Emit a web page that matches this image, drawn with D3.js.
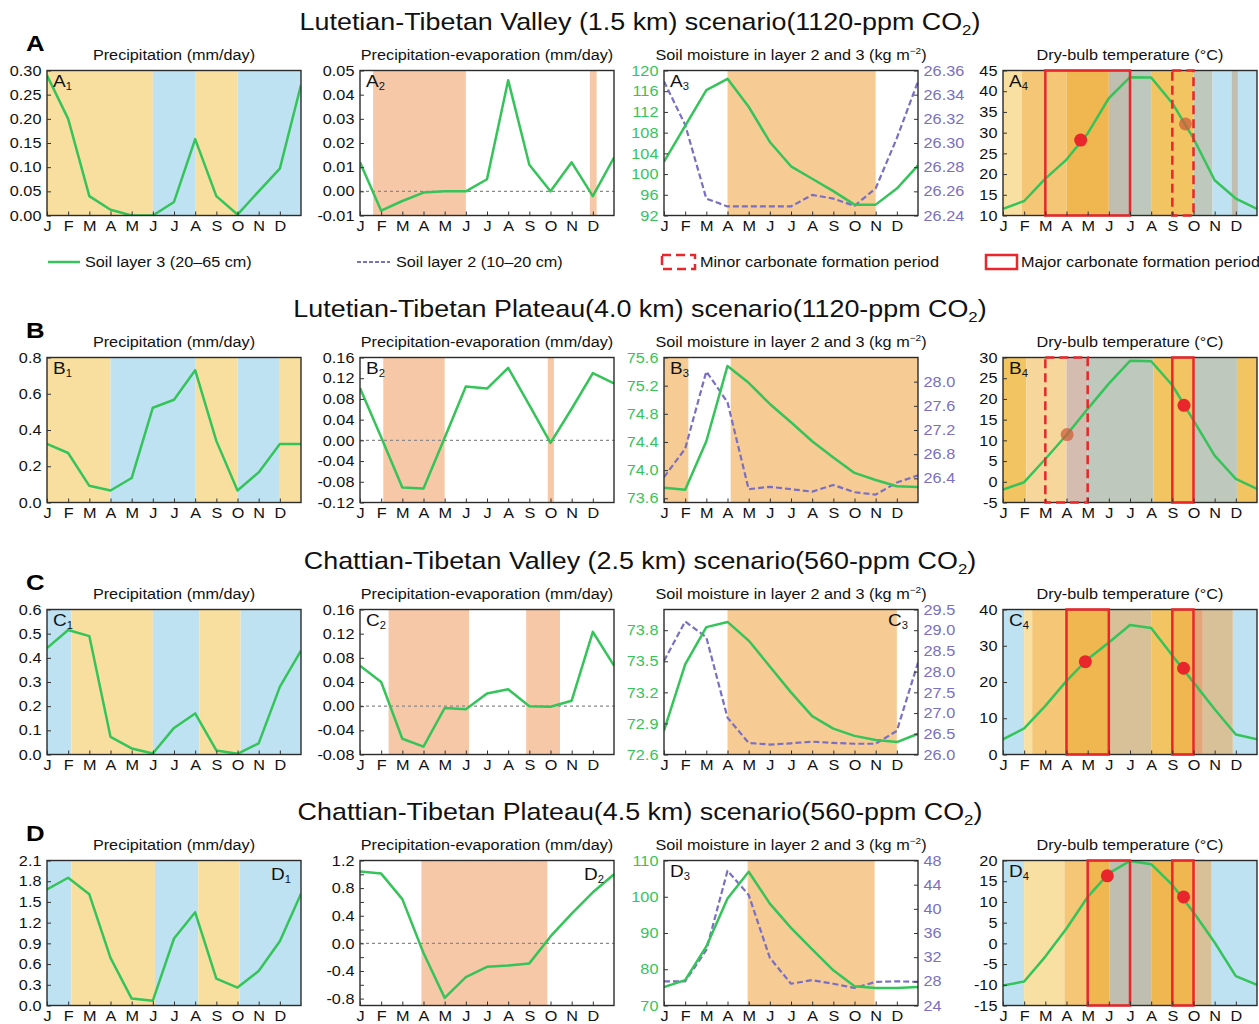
<!DOCTYPE html>
<html>
<head>
<meta charset="utf-8">
<script src="https://cdn.jsdelivr.net/npm/d3@7/dist/d3.min.js"></script>
<style>
  body { margin: 0; background: #fff; }
  text { font-family: "Liberation Sans", Arial, sans-serif; }
</style>
</head>
<body>
<div id="chart"></div>
<script>
// Monate (13 Punkte: J..D + folgender Januar am rechten Rand)
const months = ["J", "F", "M", "A", "M", "J", "J", "A", "S", "O", "N", "D"];

// Überschriften
const rowLetters = ["A", "B", "C", "D"];
const rowTitles = [
  "Lutetian-Tibetan Valley (1.5 km) scenario(1120-ppm CO",
  "Lutetian-Tibetan Plateau(4.0 km) scenario(1120-ppm CO",
  "Chattian-Tibetan Valley (2.5 km) scenario(560-ppm CO",
  "Chattian-Tibetan Plateau(4.5 km) scenario(560-ppm CO"
];
const subTitles = ["Precipitation (mm/day)", "Precipitation-evaporation (mm/day)",
  "Soil moisture in layer 2 and 3 (kg m", "Dry-bulb temperature (°C)"];
const legendLabels = ["Soil layer 3 (20–65 cm)", "Soil layer 2 (10–20 cm)",
  "Minor carbonate formation period", "Major carbonate formation period"];

// Niederschlag (mm/day)
const precipA = [0.29, 0.20, 0.04, 0.012, 0.0, 0.0, 0.028, 0.158, 0.04, 0.002, 0.05, 0.097, 0.27];
const precipB = [0.323, 0.273, 0.092, 0.066, 0.135, 0.523, 0.567, 0.73, 0.34, 0.066, 0.166, 0.323, 0.323];
const precipC = [0.44, 0.515, 0.49, 0.073, 0.025, 0.004, 0.11, 0.17, 0.017, 0.003, 0.046, 0.28, 0.43];
const precipD = [1.68, 1.85, 1.61, 0.69, 0.10, 0.07, 0.97, 1.35, 0.39, 0.26, 0.50, 0.93, 1.62];

// Niederschlag - Verdunstung (mm/day)
const peA = [0.012, -0.008, -0.004, -0.0005, 0.0, 0.0, 0.005, 0.046, 0.011, 0.0, 0.012, -0.002, 0.014];
const peB = [0.101, 0.006, -0.091, -0.093, 0.005, 0.104, 0.10, 0.14, 0.068, -0.005, 0.061, 0.13, 0.11];
const peC = [0.067, 0.04, -0.054, -0.067, -0.003, -0.005, 0.021, 0.028, 0.0, -0.001, 0.009, 0.123, 0.067];
const peD = [1.04, 1.01, 0.64, -0.14, -0.79, -0.49, -0.34, -0.32, -0.29, 0.1, 0.43, 0.74, 1.0];

// Bodenfeuchte Schicht 3 (links) und Schicht 2 (rechts)
const soil3A = [102.4, 109.3, 116.2, 118.4, 113, 106.2, 101.5, 99.1, 96.7, 94.1, 94.1, 97.2, 101.7];
const soil2A = [26.351, 26.315, 26.254, 26.2475, 26.2475, 26.2475, 26.2475, 26.257, 26.254, 26.248, 26.2625, 26.304, 26.351];
const soil3B = [73.75, 73.72, 74.41, 75.48, 75.24, 74.94, 74.68, 74.41, 74.18, 73.96, 73.86, 73.77, 73.76];
const soil2B = [26.42, 26.89, 28.17, 27.66, 26.22, 26.26, 26.22, 26.18, 26.29, 26.17, 26.13, 26.33, 26.45];
const soil3C = [72.83, 73.47, 73.83, 73.88, 73.70, 73.45, 73.20, 72.97, 72.85, 72.78, 72.74, 72.72, 72.8];
const soil2C = [28.26, 29.21, 28.83, 26.89, 26.28, 26.24, 26.27, 26.31, 26.28, 26.26, 26.26, 26.57, 28.22];
const soil3D = [75.1, 77.0, 86.3, 99.5, 106.9, 98.1, 91.4, 85.5, 79.7, 75.3, 74.8, 74.8, 75.1];
const soil2D = [28.0, 28.0, 33.2, 46.3, 42.3, 31.9, 27.6, 28.2, 27.6, 26.9, 27.9, 28.0, 27.9];

// Trockentemperatur (°C)
const tempA = [11.6, 13.5, 18.9, 23.5, 29.8, 38.3, 43.4, 43.3, 37.1, 28.6, 18.5, 14.1, 11.6];
const tempB = [-1.9, -0.1, 5.5, 11.3, 17.6, 23.7, 29.2, 29.1, 23.3, 14.8, 6.3, 0.7, -1.7];
const tempC = [4.2, 7.2, 13.4, 20.3, 26.3, 30.9, 35.7, 34.9, 27.3, 19.9, 12.5, 5.5, 4.2];
const tempD = [-10.2, -9.2, -3.2, 3.6, 11.2, 16.9, 19.9, 19.1, 14.1, 7.5, 0.2, -7.9, -10.0];

// Hintergrund-Perioden [von, bis, Art] in Monaten
const precipBandsA = [[0, 5, "dry"], [5, 7, "wet"], [7, 9, "dry"], [9, 12, "wet"]];
const precipBandsB = [[0, 3, "dry"], [3, 7, "wet"], [7, 9, "dry"], [9, 11, "wet"], [11, 12, "dry"]];
const precipBandsC = [[0, 1.15, "wet"], [1.15, 5, "dry"], [5, 7.2, "wet"], [7.2, 9.15, "dry"], [9.15, 12, "wet"]];
const precipBandsD = [[0, 1.15, "wet"], [1.15, 5.1, "dry"], [5.1, 7.15, "wet"], [7.15, 9.1, "dry"], [9.1, 12, "wet"]];
const peBandsA = [[0.62, 5, "pe"], [10.86, 11.18, "pe"]];
const peBandsB = [[1.1, 4, "pe"], [8.87, 9.16, "pe"]];
const peBandsC = [[1.35, 5.15, "pe"], [7.85, 9.45, "pe"]];
const peBandsD = [[2.9, 8.85, "pe"]];
const soilBandsA = [[3, 10, "soil"]];
const soilBandsB = [[0, 1.15, "soil"], [3.15, 12, "soil"]];
const soilBandsC = [[3, 11, "soil"]];
const soilBandsD = [[3.95, 9.95, "soil"]];
const tempBandsA = [[0, 0.9, "pale"], [0.9, 3, "lo"], [3, 5, "mid"], [5, 6, "gray"], [6, 7, "sage"], [7, 9, "gold"],
  [9, 9.9, "sage"], [9.9, 10.8, "wet"], [10.8, 11.1, "gray"], [11.1, 12, "wet"]];
const tempBandsB = [[0, 1.1, "gold"], [1.1, 3, "lt"], [3, 4, "rose"], [4, 7.1, "sage"], [7.1, 9.05, "gold"],
  [9.05, 11.05, "sage"], [11.05, 12, "gold"]];
const tempBandsC = [[0, 1, "wet"], [1, 1.38, "pale"], [1.38, 2.9, "lo"], [2.9, 5, "mid"], [5, 7, "tan"], [7, 8, "gold"],
  [8, 9.06, "mid"], [9.06, 9.44, "rust"], [9.44, 10.86, "tan"], [10.86, 12, "wet"]];
const tempBandsD = [[0, 1, "wet"], [1, 2.9, "pale"], [2.9, 3.94, "lo"], [3.94, 5.04, "mid"], [5.04, 7.03, "gray"],
  [7.03, 9.1, "mid"], [9.1, 9.86, "tan"], [9.86, 12, "wet"]];

// Karbonatbildungsperioden [von, bis, Art] und Punkte [Monat, °C, Art]
const boxesA = [[2, 6, "major"], [8, 9, "minor"]];
const boxesB = [[2, 4, "minor"], [8, 9, "major"]];
const boxesC = [[3, 5, "major"], [8, 9, "major"]];
const boxesD = [[4, 6, "major"], [8, 9, "major"]];
const dotsA = [[3.67, 28.2, "major"], [8.62, 32.1, "minor"]];
const dotsB = [[3.03, 11.4, "minor"], [8.55, 18.45, "major"]];
const dotsC = [[3.89, 25.6, "major"], [8.53, 23.8, "major"]];
const dotsD = [[4.93, 16.3, "major"], [8.53, 11.2, "major"]];

// Achsenbeschriftungen
const ticksA1 = [0, 0.05, 0.10, 0.15, 0.20, 0.25, 0.30];
const ticksA2 = [-0.01, 0, 0.01, 0.02, 0.03, 0.04, 0.05];
const ticksA3L = [92, 96, 100, 104, 108, 112, 116, 120];
const ticksA3R = [26.24, 26.26, 26.28, 26.30, 26.32, 26.34, 26.36];
const ticksA4 = [10, 15, 20, 25, 30, 35, 40, 45];
const ticksB1 = [0, 0.2, 0.4, 0.6, 0.8];
const ticksB2 = [-0.12, -0.08, -0.04, 0, 0.04, 0.08, 0.12, 0.16];
const ticksB3L = [73.6, 74.0, 74.4, 74.8, 75.2, 75.6];
const ticksB3R = [26.4, 26.8, 27.2, 27.6, 28.0];
const ticksB4 = [-5, 0, 5, 10, 15, 20, 25, 30];
const ticksC1 = [0, 0.1, 0.2, 0.3, 0.4, 0.5, 0.6];
const ticksC2 = [-0.08, -0.04, 0, 0.04, 0.08, 0.12, 0.16];
const ticksC3L = [72.6, 72.9, 73.2, 73.5, 73.8];
const ticksC3R = [26.0, 26.5, 27.0, 27.5, 28.0, 28.5, 29.0, 29.5];
const ticksC4 = [0, 10, 20, 30, 40];
const ticksD1 = [0, 0.3, 0.6, 0.9, 1.2, 1.5, 1.8, 2.1];
const ticksD2 = [-0.8, -0.6, -0.4, -0.2, 0, 0.2, 0.4, 0.6, 0.8, 1.0, 1.2];
const ticksD3L = [70, 80, 90, 100, 110];
const ticksD3R = [24, 28, 32, 36, 40, 44, 48];
const ticksD4 = [-15, -10, -5, 0, 5, 10, 15, 20];

// Layout
const width = 1259, height = 1024;
const colX = [[47, 301], [360, 614], [664, 918], [1003, 1257]];
const rowTop = [70.5, 357.5, 609.5, 860.5];
const plotH = 145;
const SX = 1.12; // Schrift im Original horizontal gestreckt

const bandColor = {
  dry: "#f8df9f", wet: "#bee2f2", pe: "#f6c8a8", soil: "#f6cb94",
  pale: "#f8e0a2", lo: "#f4c675", mid: "#f0b650", gray: "#c0beb0", sage: "#bfc8bc",
  gold: "#f3c462", tan: "#d8c099", rose: "#d5bcb0", rust: "#e3a678", lt: "#f6d69b"
};
const green = "#35c45a", purple = "#7a6fc2", red = "#e8262b";

const fmt = f => v => d3.format(f)(v).replace("−", "-");

const svg = d3.select("#chart").append("svg")
  .attr("width", width).attr("height", height);

function label(parent, x, y, str, size, anchor, fill, weight) {
  return parent.append("text")
    .attr("transform", `translate(${x},${y}) scale(${SX},1)`)
    .attr("text-anchor", anchor || "start")
    .attr("font-size", size)
    .attr("fill", fill || "#111")
    .attr("font-weight", weight || "normal")
    .text(str);
}

// Panels
const panels = [
  { row: 0, col: 0, tag: ["A", "1"], bands: precipBandsA, yDomain: [0, 0.30], yTicks: ticksA1, yFmt: fmt(".2f"), lines: [{ v: precipA }] },
  { row: 0, col: 1, tag: ["A", "2"], bands: peBandsA, zero: true, yDomain: [-0.01, 0.05], yTicks: ticksA2, yFmt: fmt(".2f"), lines: [{ v: peA }] },
  { row: 0, col: 2, tag: ["A", "3"], bands: soilBandsA, yDomain: [92, 120], yTicks: ticksA3L, yFmt: fmt("d"),
    y2Domain: [26.24, 26.36], y2Ticks: ticksA3R, y2Fmt: fmt(".2f"), lines: [{ v: soil2A, right: true }, { v: soil3A }] },
  { row: 0, col: 3, tag: ["A", "4"], bands: tempBandsA, yDomain: [10, 45], yTicks: ticksA4, yFmt: fmt("d"), lines: [{ v: tempA }], boxes: boxesA, dots: dotsA },

  { row: 1, col: 0, tag: ["B", "1"], bands: precipBandsB, yDomain: [0, 0.8], yTicks: ticksB1, yFmt: fmt(".1f"), lines: [{ v: precipB }] },
  { row: 1, col: 1, tag: ["B", "2"], bands: peBandsB, zero: true, yDomain: [-0.12, 0.16], yTicks: ticksB2, yFmt: fmt(".2f"), lines: [{ v: peB }] },
  { row: 1, col: 2, tag: ["B", "3"], bands: soilBandsB, yDomain: [73.54, 75.6], yTicks: ticksB3L, yFmt: fmt(".1f"),
    y2Domain: [26.0, 28.4], y2Ticks: ticksB3R, y2Fmt: fmt(".1f"), lines: [{ v: soil2B, right: true }, { v: soil3B }] },
  { row: 1, col: 3, tag: ["B", "4"], bands: tempBandsB, yDomain: [-5, 30], yTicks: ticksB4, yFmt: fmt("d"), lines: [{ v: tempB }], boxes: boxesB, dots: dotsB },

  { row: 2, col: 0, tag: ["C", "1"], bands: precipBandsC, yDomain: [0, 0.6], yTicks: ticksC1, yFmt: fmt(".1f"), lines: [{ v: precipC }] },
  { row: 2, col: 1, tag: ["C", "2"], bands: peBandsC, zero: true, yDomain: [-0.08, 0.16], yTicks: ticksC2, yFmt: fmt(".2f"), lines: [{ v: peC }] },
  { row: 2, col: 2, tag: ["C", "3"], tagRight: true, bands: soilBandsC, yDomain: [72.6, 74.0], yTicks: ticksC3L, yFmt: fmt(".1f"),
    y2Domain: [26.0, 29.5], y2Ticks: ticksC3R, y2Fmt: fmt(".1f"), lines: [{ v: soil2C, right: true }, { v: soil3C }] },
  { row: 2, col: 3, tag: ["C", "4"], bands: tempBandsC, yDomain: [0, 40], yTicks: ticksC4, yFmt: fmt("d"), lines: [{ v: tempC }], boxes: boxesC, dots: dotsC },

  { row: 3, col: 0, tag: ["D", "1"], tagRight: true, bands: precipBandsD, yDomain: [0, 2.1], yTicks: ticksD1, yFmt: fmt(".1f"), lines: [{ v: precipD }] },
  { row: 3, col: 1, tag: ["D", "2"], tagRight: true, bands: peBandsD, zero: true, yDomain: [-0.9, 1.2], yTicks: ticksD2,
    yFmt: v => Math.round(v * 10) % 4 === 0 ? fmt(".1f")(v) : "", lines: [{ v: peD }] },
  { row: 3, col: 2, tag: ["D", "3"], bands: soilBandsD, yDomain: [70, 110], yTicks: ticksD3L, yFmt: fmt("d"),
    y2Domain: [24, 48], y2Ticks: ticksD3R, y2Fmt: fmt("d"), lines: [{ v: soil2D, right: true }, { v: soil3D }] },
  { row: 3, col: 3, tag: ["D", "4"], bands: tempBandsD, yDomain: [-15, 20], yTicks: ticksD4, yFmt: fmt("d"), lines: [{ v: tempD }], boxes: boxesD, dots: dotsD }
];

panels.forEach((p, i) => drawPanel(p, i));

function drawPanel(p, i) {
  const [x0, x1] = colX[p.col];
  const y0 = rowTop[p.row], y1 = y0 + plotH;
  const x = d3.scaleLinear().domain([0, 12]).range([x0, x1]);
  const y = d3.scaleLinear().domain(p.yDomain).range([y1, y0]);
  const y2 = p.y2Domain ? d3.scaleLinear().domain(p.y2Domain).range([y1, y0]) : null;
  const g = svg.append("g");

  g.append("clipPath").attr("id", "clip" + i)
    .append("rect").attr("x", x0).attr("y", y0).attr("width", x1 - x0).attr("height", plotH);

  // Hintergrund
  g.selectAll("rect.band").data(p.bands).join("rect")
    .attr("class", "band")
    .attr("x", d => x(d[0])).attr("width", d => x(d[1]) - x(d[0]))
    .attr("y", y0).attr("height", plotH)
    .attr("fill", d => bandColor[d[2]]);

  if (p.zero) {
    g.append("line")
      .attr("x1", x0).attr("x2", x1).attr("y1", y(0)).attr("y2", y(0))
      .attr("stroke", "#8a8a8a").attr("stroke-width", 1.2).attr("stroke-dasharray", "3,3");
  }

  // Linien
  p.lines.forEach(l => {
    const sc = l.right ? y2 : y;
    const line = d3.line().x((d, k) => x(k)).y(d => sc(d));
    g.append("path")
      .datum(l.v)
      .attr("clip-path", `url(#clip${i})`)
      .attr("d", line)
      .attr("fill", "none")
      .attr("stroke", l.right ? purple : green)
      .attr("stroke-width", l.right ? 2.2 : 2.5)
      .attr("stroke-dasharray", l.right ? "6,3" : null)
      .attr("stroke-linejoin", "round");
  });

  // Rahmen
  g.append("rect").attr("x", x0).attr("y", y0).attr("width", x1 - x0).attr("height", plotH)
    .attr("fill", "none").attr("stroke", "#2b2b2b").attr("stroke-width", 1.4);

  // Karbonatperioden (über dem Rahmen)
  if (p.boxes) {
    g.selectAll("rect.box").data(p.boxes).join("rect")
      .attr("class", "box")
      .attr("x", d => x(d[0])).attr("width", d => x(d[1]) - x(d[0]))
      .attr("y", y0).attr("height", plotH)
      .attr("fill", "none").attr("stroke", red).attr("stroke-width", 2.5)
      .attr("stroke-dasharray", d => d[2] === "minor" ? "9,5" : null);
    g.selectAll("circle.dot").data(p.dots).join("circle")
      .attr("class", "dot")
      .attr("cx", d => x(d[0])).attr("cy", d => y(d[1])).attr("r", 6.5)
      .attr("fill", d => d[2] === "minor" ? "#cf5f3c" : red)
      .attr("fill-opacity", d => d[2] === "minor" ? 0.75 : 1);
  }

  const styleAxis = (a, color) => {
    a.select(".domain").remove();
    a.selectAll("line").attr("stroke", "#333");
    a.selectAll("text")
      .attr("fill", color || "#111")
      .attr("font-size", 14.5)
      .attr("font-family", "Liberation Sans, Arial, sans-serif")
      .attr("transform", `scale(${SX},1)`);
  };

  g.append("g").attr("transform", `translate(0,${y1})`)
    .call(d3.axisBottom(x).tickValues(d3.range(12)).tickSize(-4).tickPadding(5).tickFormat(k => months[k]))
    .call(a => styleAxis(a));

  g.append("g").attr("transform", `translate(${x0},0)`)
    .call(d3.axisLeft(y).tickValues(p.yTicks).tickSize(-4).tickPadding(5).tickFormat(p.yFmt))
    .call(a => styleAxis(a, y2 ? green : null));

  if (y2) {
    g.append("g").attr("transform", `translate(${x1},0)`)
      .call(d3.axisRight(y2).tickValues(p.y2Ticks).tickSize(-4).tickPadding(5).tickFormat(p.y2Fmt))
      .call(a => styleAxis(a, purple));
  }

  // Panel-Kennung (z.B. A1)
  const tx = p.tagRight ? x1 - 10 : x0 + 6;
  const ty = p.row === 3 && p.tagRight ? y0 + 19 : y0 + 16;
  const t = label(g, tx, ty, null, 17, p.tagRight ? "end" : "start");
  t.append("tspan").text(p.tag[0]);
  t.append("tspan").attr("font-size", 10).attr("dy", 3).text(p.tag[1]);
}

// Zeilenüberschriften
rowTitles.forEach((title, r) => {
  const y0 = rowTop[r];
  const t = label(svg, 640, y0 - 40.5, null, 24, "middle");
  t.append("tspan").text(title);
  t.append("tspan").attr("font-size", 15).attr("dy", 5).text("2");
  t.append("tspan").attr("dy", -5).text(")");

  label(svg, 26, y0 - 20, rowLetters[r], 23, "start", "#000", "bold");

  subTitles.forEach((s, c) => {
    const cx = (colX[c][0] + colX[c][1]) / 2;
    const st = label(svg, cx, y0 - 11, null, 14.5, "middle");
    st.append("tspan").text(s);
    if (c === 2) {
      st.append("tspan").attr("font-size", 9).attr("dy", -6).text("−2");
      st.append("tspan").attr("dy", 6).text(")");
    }
  });
});

// Legende
const lg = svg.append("g");
const ly = 262;
lg.append("line").attr("x1", 48).attr("x2", 80).attr("y1", ly).attr("y2", ly)
  .attr("stroke", green).attr("stroke-width", 2.5);
label(lg, 85, ly + 5, legendLabels[0], 14.5);
lg.append("line").attr("x1", 357).attr("x2", 390).attr("y1", ly).attr("y2", ly)
  .attr("stroke", purple).attr("stroke-width", 2.2).attr("stroke-dasharray", "4,2");
label(lg, 396, ly + 5, legendLabels[1], 14.5);
lg.append("rect").attr("x", 662).attr("y", ly - 7).attr("width", 33).attr("height", 14)
  .attr("fill", "none").attr("stroke", red).attr("stroke-width", 2.5).attr("stroke-dasharray", "9,5");
label(lg, 700, ly + 5, legendLabels[2], 14.5);
lg.append("rect").attr("x", 986).attr("y", ly - 7).attr("width", 31).attr("height", 14)
  .attr("fill", "none").attr("stroke", red).attr("stroke-width", 2.5);
label(lg, 1021, ly + 5, legendLabels[3], 14.5);
</script>
</body>
</html>
